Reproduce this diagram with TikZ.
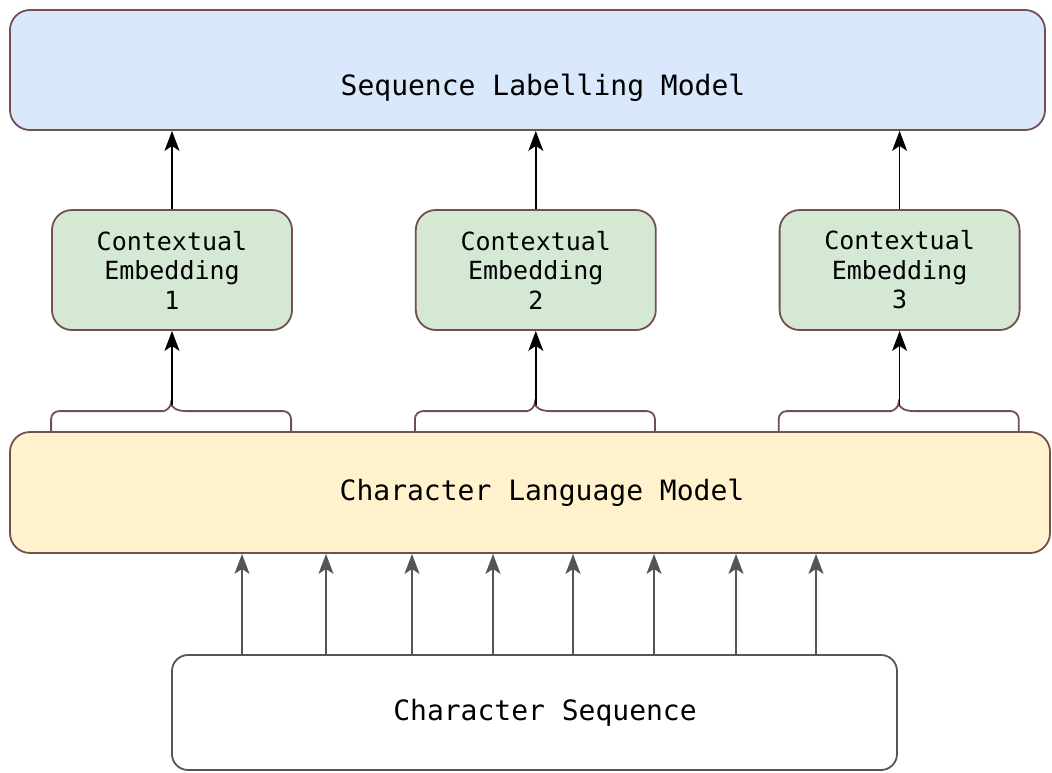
\documentclass[tikz,border=0pt]{standalone}
\usepackage{fontspec}
\setmonofont{DejaVu Sans Mono}
\usepackage{tikz}
\usetikzlibrary{arrows.meta,positioning}
\definecolor{edgebrown}{RGB}{115,80,80}
\definecolor{slmblue}{HTML}{DAE8FC}
\definecolor{cegreen}{HTML}{D5E8D4}
\definecolor{clmyellow}{HTML}{FFF2CC}
\definecolor{csgray}{RGB}{85,85,85}

\begin{document}
\begin{tikzpicture}[x=1pt,y=-1pt,
box/.style={draw=edgebrown,line width=1.8pt,rounded corners=20pt,inner sep=0pt},
emb/.style={box,fill=cegreen,minimum width=240pt,minimum height=120pt,align=center,font=\ttfamily\fontsize{25}{29.5}\selectfont},
title/.style={font=\ttfamily\fontsize{28}{34}\selectfont,inner sep=0pt},
arrow/.style={-{Stealth[length=20pt,width=15pt,inset=5pt]},line width=1.5pt},
charrow/.style={arrow,draw=csgray,line width=2pt},
brace/.style={draw=edgebrown,line width=1.8pt}]
\useasboundingbox (0,0) rectangle (1052,772);
\node[box,fill=slmblue,minimum width=1035pt,minimum height=120pt,
  label={[title,xshift=15.5pt,yshift=-18pt]center:Sequence Labelling Model}] (slm) at (527.5,70) {};
\node[emb] (ce1) at (172,270) {Contextual\\Embedding\\1};
\node[emb,right=122pt of ce1] (ce2) {Contextual\\Embedding\\2};
\node[emb,right=122pt of ce2] (ce3) {Contextual\\Embedding\\3};
\node[box,fill=clmyellow,minimum width=1040pt,minimum height=121pt,
  label={[title,xshift=12pt]center:Character Language Model}] (clm) at (530,492.5) {};
\node[box,draw=csgray,rounded corners=16pt,minimum width=725pt,minimum height=115pt,
  label={[title,xshift=10.5pt]center:Character Sequence}] (cs) at (534.5,712.5) {};
% embeddings -> sequence labelling
\foreach \n in {ce1,ce2,ce3} \draw[arrow] (\n.north) -- (\n.north |- slm.south);
% braces over the character LM
\foreach \n in {ce1,ce2,ce3}{
  \coordinate (tip\n) at ([yshift=-74pt]\n.south);
  \draw[brace] (\n.south west |- clm.north) [rounded corners=8pt] -- ++(0,-20) -- ++(104,0)
    [sharp corners] .. controls +(10,0) and +(0,6) .. ++(16,-9)
    .. controls +(0,6) and +(-10,0) .. ++(16,9)
    [rounded corners=8pt] -- ++(104,0) -- ++(0,20);
  \draw[arrow] (tip\n) -- (\n.south);
}
% characters -> character LM
\foreach \dx [count=\i] in {-292.5,-208.5,-122.5,-41.5,38.5,119.5,201.5,281.5}{
  \coordinate (in\i) at ([xshift=\dx pt]cs.north);
  \draw[charrow] (in\i) -- (in\i |- clm.south);
}
\end{tikzpicture}
\end{document}
